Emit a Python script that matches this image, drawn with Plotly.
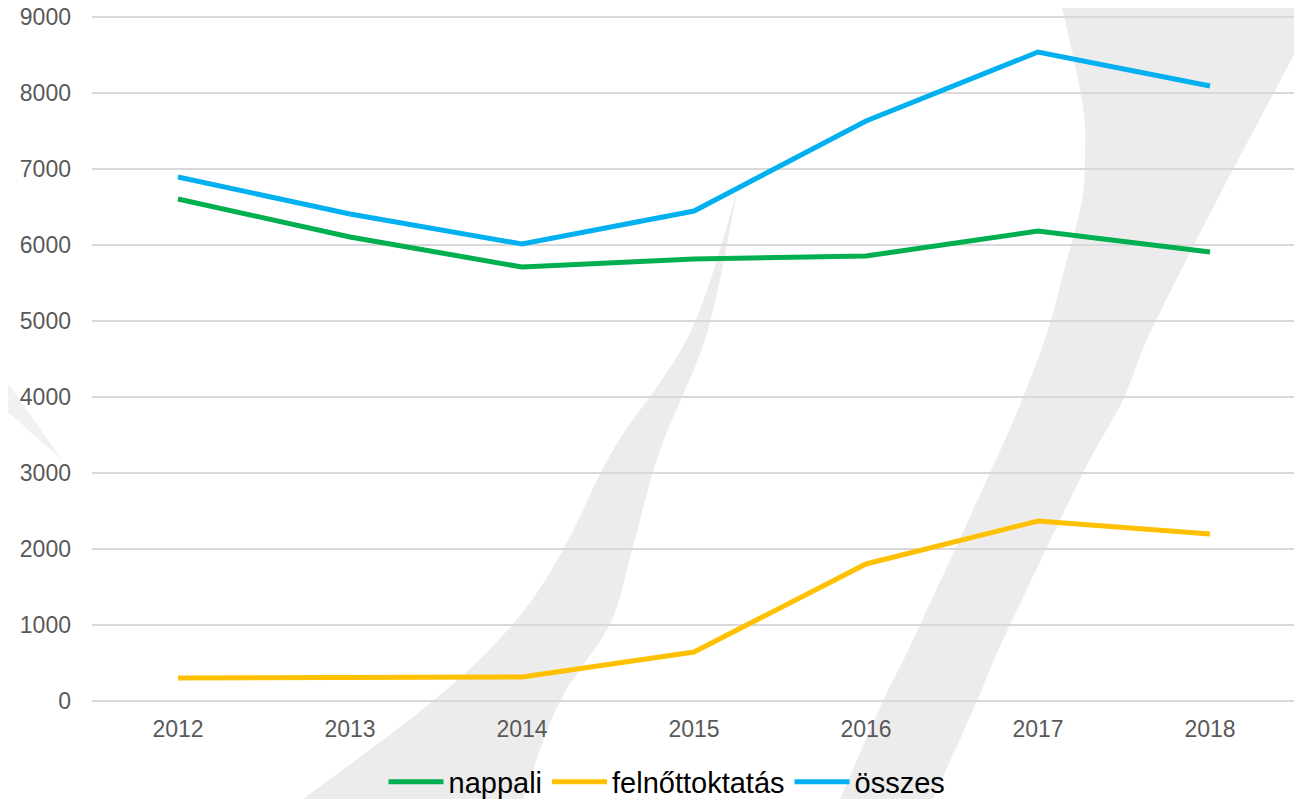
import plotly.graph_objects as go

years = ["2012", "2013", "2014", "2015", "2016", "2017", "2018"]
nappali = [6605, 6105, 5710, 5816, 5855, 6184, 5908]
felnott = [303, 303, 316, 645, 1803, 2368, 2197]
osszes = [6895, 6408, 6013, 6447, 7632, 8539, 8092]
y_ticks = [0, 1000, 2000, 3000, 4000, 5000, 6000, 7000, 8000, 9000]

OFF = 8  # page body margin
W, H = 1302 - OFF, 799 - OFF
L, R, T, B = 92 - OFF, 6, 7, 98
pw, ph = W - L - R, H - T - B
YMAX = 9000 * ph / 684.0  # keeps 9000 at the reference gridline position


def px(x, y):
    # window pixel -> paper coords
    return (x - OFF - L) / pw, (H - B - (y - OFF)) / ph


def smooth(pts, n=8):
    out = []
    P = [pts[0]] + pts + [pts[-1]]
    for i in range(1, len(P) - 2):
        p0, p1, p2, p3 = P[i - 1], P[i], P[i + 1], P[i + 2]
        for k in range(n):
            t = k / n
            t2, t3 = t * t, t * t * t
            out.append(tuple(
                0.5 * (2 * p1[j] + (-p0[j] + p2[j]) * t + (2 * p0[j] - 5 * p1[j] + 4 * p2[j] - p3[j]) * t2
                       + (-p0[j] + 3 * p1[j] - 3 * p2[j] + p3[j]) * t3) for j in range(2)))
    out.append(pts[-1])
    return out


def path(pts):
    s = ""
    for i, (x, y) in enumerate(pts):
        a, b = px(x, y)
        s += ("M" if i == 0 else "L") + f"{a:.4f},{b:.4f} "
    return s + "Z"


left_a = [(737, 192), (690, 333), (613, 450), (563, 550), (513, 624), (433, 701), (303, 799), (280, 815)]
left_b = [(737, 192), (707, 333), (660, 450), (632, 550), (610, 624), (560, 701), (523, 799), (518, 815)]
left_swoosh = smooth(left_a) + smooth(left_b)[::-1]

right_a = [(1058, -10), (1082, 100), (1085, 150), (1082, 200), (1065, 267), (1047, 333), (1022, 400),
           (990, 473), (913, 640), (883, 701), (840, 799), (834, 815)]
right_b = [(1328, -10), (1270, 100), (1217, 200), (1150, 333), (1123, 400), (1083, 473), (1003, 640),
           (977, 701), (933, 799), (927, 815)]
right_swoosh = smooth(right_a) + smooth(right_b)[::-1]

chevron = [(0, 372), (62, 460), (0, 405)]

shapes = [
    dict(type="path", xref="paper", yref="paper", path=path(left_swoosh),
         fillcolor="#ECECEC", line=dict(width=0), layer="below"),
    dict(type="path", xref="paper", yref="paper", path=path(right_swoosh),
         fillcolor="#ECECEC", line=dict(width=0), layer="below"),
    dict(type="path", xref="paper", yref="paper", path=path(chevron),
         fillcolor="#F1F1F1", line=dict(width=0), layer="below"),
]

fig = go.Figure()
fig.add_trace(go.Scatter(x=years, y=nappali, name="nappali", mode="lines", legendgroup="a",
                         line=dict(color="#00B050", width=5)))
fig.add_trace(go.Scatter(x=years, y=felnott, name="felnőttoktatás", mode="lines", legendgroup="b",
                         line=dict(color="#FFC000", width=5)))
fig.add_trace(go.Scatter(x=years, y=osszes, name="összes", mode="lines", legendgroup="c",
                         line=dict(color="#00B0F0", width=5)))

fig.update_layout(
    width=W, height=H,
    margin=dict(l=L, r=R, t=T, b=B, pad=0, autoexpand=False),
    paper_bgcolor="white", plot_bgcolor="rgba(0,0,0,0)",
    font=dict(family="Liberation Sans, Arial", color="#595959", size=23),
    shapes=shapes,
    showlegend=True,
    legend=dict(orientation="h", xref="container", yref="container",
                x=(667 - OFF) / W, xanchor="center", y=(799 - 782) / H, yanchor="middle",
                font=dict(size=29, color="#000000"), bgcolor="rgba(0,0,0,0)",
                itemwidth=55, traceorder="grouped", tracegroupgap=18),
)
fig.update_xaxes(type="category", range=[-0.5, 6.5], showgrid=False, showline=False,
                 zeroline=False, ticks="", ticklabelstandoff=12, automargin=False,
                 tickfont=dict(size=23, color="#595959"))
fig.update_yaxes(range=[0, YMAX], tickvals=y_ticks, showgrid=True, gridcolor="#D9D9D9",
                 gridwidth=1.5, zeroline=True, zerolinecolor="#D9D9D9", zerolinewidth=1.5,
                 showline=False, ticks="", ticklabelstandoff=20, automargin=False,
                 ticklabeloverflow="allow",
                 tickfont=dict(size=23, color="#595959"))

fig.write_html("out.html")
